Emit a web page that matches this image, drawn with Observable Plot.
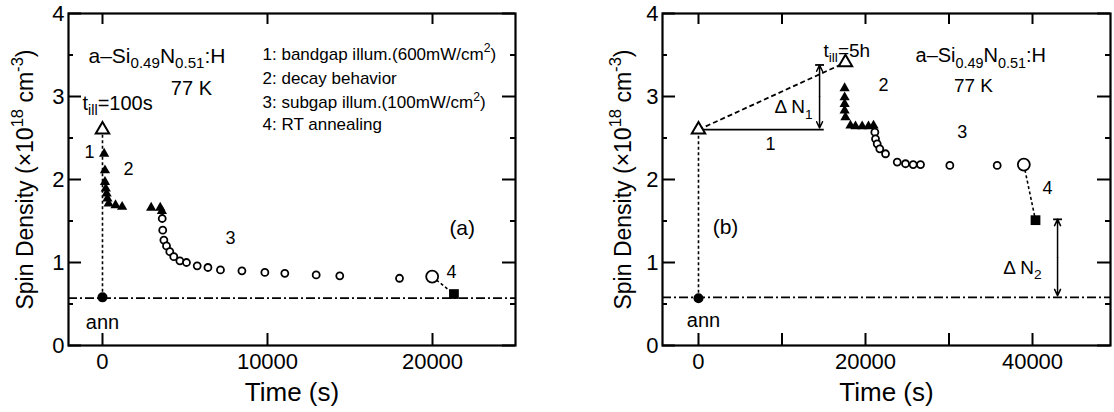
<!DOCTYPE html>
<html><head><meta charset="utf-8">
<script src="https://cdn.jsdelivr.net/npm/d3@7"></script>
<script src="https://cdn.jsdelivr.net/npm/@observablehq/plot@0.6"></script>
<style>
body{margin:0;background:#fff;}
#wrap{position:relative;width:1114px;height:412px;overflow:hidden;}
#a,#b{position:absolute;top:0;}
#a{left:0} #b{left:557px}
svg{font-family:Arial,"Liberation Sans",Helvetica,sans-serif;}
</style></head><body><div id="wrap"><div id="a"></div><div id="b"></div></div>
<script>
// ---------- shared ----------
const yMajor = [0, 1, 2, 3, 4];
const yMinor = [0.5, 1.5, 2.5, 3.5];
const yLabel = "Spin Density (×10^{18} cm^{-3})";
const xLabel = "Time (s)";
const material = "a–Si_{0.49}N_{0.51}:H";
const temperature = "77 K";

// ---------- panel (a) ----------
const aXTicks = [0, 10000, 20000];
const aXLabels = [0, 10000, 20000];
const aAnnT = [0], aAnnV = [0.58];
const aOpenTriT = [0], aOpenTriV = [2.6];
const aTriT = [100, 150, 150, 200, 250, 300, 370, 790, 1190, 2950, 3500, 3600];
const aTriV = [2.31, 2.11, 1.97, 1.89, 1.83, 1.77, 1.71, 1.69, 1.67, 1.66, 1.66, 1.62];
const aCircT = [3620, 3650, 3720, 3880, 4080, 4320, 4690, 5090, 5740, 6390, 7150, 8450, 9840, 11050, 12950, 14380, 18000];
const aCircV = [1.53, 1.39, 1.27, 1.20, 1.13, 1.07, 1.02, 1.00, 0.96, 0.94, 0.91, 0.90, 0.88, 0.87, 0.85, 0.84, 0.81];
const aBigT = [19980], aBigV = [0.83];
const aSqT = [21300], aSqV = [0.62];
const aBaseline = 0.57;
const aMaterialPos = [{t: -850, v: 3.49}];
const aTempPos = [{t: 5390, v: 3.10}];
const aTillText = [{t: -1210, v: 2.92, s: "t_{ill}=100s"}];
const aLegendText = [
  {t: 9700, v: 3.51, s: "1: bandgap illum.(600mW/cm^{2})"},
  {t: 9700, v: 3.22, s: "2: decay behavior"},
  {t: 9700, v: 2.93, s: "3: subgap illum.(100mW/cm^{2})"},
  {t: 9700, v: 2.66, s: "4: RT annealing"}
];
const aStepText = [
  {t: -780, v: 2.33, s: "1"},
  {t: 1580, v: 2.12, s: "2"},
  {t: 7760, v: 1.29, s: "3"},
  {t: 21150, v: 0.88, s: "4"}
];
const aPanelText = [{t: 21800, v: 1.41, s: "(a)"}];
const aAnnText = [{t: 0, v: 0.27, s: "ann"}];

// ---------- panel (b) ----------
const bXTicks = [0, 10000, 20000, 30000, 40000];
const bXLabels = [0, 20000, 40000];
const bAnnT = [0], bAnnV = [0.57];
const bOpenTriT = [0, 17600], bOpenTriV = [2.6, 3.41];
const bTriT = [17500, 17500, 17500, 17500, 17600, 18200, 18800, 19600, 20360, 20960];
const bTriV = [3.10, 2.99, 2.91, 2.83, 2.75, 2.65, 2.64, 2.64, 2.64, 2.65];
const bCircT = [21120, 21200, 21400, 21710, 22400, 23800, 24790, 25710, 26590, 30100, 35770];
const bCircV = [2.57, 2.49, 2.43, 2.37, 2.31, 2.21, 2.19, 2.18, 2.18, 2.17, 2.17];
const bBigT = [38960], bBigV = [2.18];
const bSqT = [40360], bSqV = [1.51];
const bBaseline = 0.58;
const bLevel1End = 15000;
const bDeltas = [{t: 14500, v1: 2.62, v2: 3.38}, {t: 43000, v1: 0.60, v2: 1.52}];
const bMaterialPos = [{t: 25990, v: 3.49}];
const bTempPos = [{t: 32930, v: 3.13}];
const bTillText = [{t: 14970, v: 3.55, s: "t_{ill}=5h"}];
const bStepText = [
  {t: 22150, v: 3.13, s: "2"},
  {t: 31600, v: 2.57, s: "3"},
  {t: 41800, v: 1.89, s: "4"},
  {t: 8620, v: 2.43, s: "1"}
];
const bDeltaText = [
  {t: 11380, v: 2.87, s: "Δ N_{1}"},
  {t: 38800, v: 0.94, s: "Δ N_{2}"}
];
const bPanelText = [{t: 3230, v: 1.42, s: "(b)"}];
const bAnnText = [{t: 600, v: 0.30, s: "ann"}];

const zip = (T, V) => T.map((t, i) => ({t, v: V[i]}));
const barSymbol = {draw(ctx, size) { const w = Math.sqrt(size) / 2; ctx.moveTo(-w, 0); ctx.lineTo(w, 0); }};

function axesMarks(xTicks, xLabels, plotW, plotH) {
  return [
    Plot.frame({stroke: "black", strokeWidth: 2.2}),
    Plot.tickX(xTicks, {x: d => d, insetTop: plotH - 12, strokeWidth: 2}),
    Plot.tickX(xTicks, {x: d => d, insetBottom: plotH - 11, strokeWidth: 2}),
    Plot.tickY(yMajor, {y: d => d, insetRight: plotW - 13, strokeWidth: 2}),
    Plot.tickY(yMinor, {y: d => d, insetRight: plotW - 5, strokeWidth: 2}),
    Plot.tickY(yMajor, {y: d => d, insetLeft: plotW - 13, strokeWidth: 2}),
    Plot.tickY(yMinor, {y: d => d, insetLeft: plotW - 5, strokeWidth: 2}),
    Plot.axisX(xLabels, {tickSize: 0, tickPadding: 8, fontSize: 22, tickFormat: d => String(d), label: null}),
    Plot.axisY(yMajor, {tickSize: 0, tickPadding: 4, fontSize: 22, tickFormat: d => String(d), label: null}),
    Plot.text([xLabel], {frameAnchor: "bottom", dy: 55, fontSize: 26}),
  ];
}

function txt(texts, anchor, fs, extra = {}) {
  return Plot.text(texts, {x: "t", y: "v", text: "s", textAnchor: anchor, fontSize: fs, ...extra});
}
function fixed(pos, s, anchor, fs) {
  return Plot.text(pos, {x: "t", y: "v", text: () => s, textAnchor: anchor, fontSize: fs});
}

function rich(svg) {
  d3.select(svg).selectAll("text").each(function () {
    const s = this.textContent;
    if (!/[_^]\{/.test(s)) return;
    const fs = parseFloat(getComputedStyle(this).fontSize) || 16;
    const el = d3.select(this);
    el.text(null);
    const re = /([_^])\{([^}]*)\}/g;
    let last = 0, m, shift = 0;
    const add = (t, opts) => {
      const ts = el.append("tspan").text(t);
      if (opts.size) ts.attr("font-size", opts.size);
      if (opts.dy) ts.attr("dy", opts.dy);
    };
    while ((m = re.exec(s))) {
      if (m.index > last) { add(s.slice(last, m.index), {dy: -shift}); shift = 0; }
      const d = m[1] === "_" ? 0.28 * fs : -0.42 * fs;
      add(m[2], {size: 0.72 * fs, dy: d - shift});
      shift = d;
      last = re.lastIndex;
    }
    if (last < s.length) add(s.slice(last), {dy: -shift});
  });
}

function yLabelMark(dx) {
  return Plot.text([yLabel], {frameAnchor: "left", textAnchor: "middle", dx, rotate: -90, fontSize: 23});
}

function deltaArrows(data) {
  return [
    Plot.arrow(data, {x1: "t", x2: "t", y1: d => (d.v1 + d.v2) / 2, y2: "v1", strokeWidth: 1.5, headLength: 7, headAngle: 50}),
    Plot.arrow(data, {x1: "t", x2: "t", y1: d => (d.v1 + d.v2) / 2, y2: "v2", strokeWidth: 1.5, headLength: 7, headAngle: 50}),
    Plot.dot(data, {x: "t", y: "v2", symbol: barSymbol, stroke: "black", strokeWidth: 1.8, r: 5})
  ];
}

const style = {fontFamily: "Arial, 'Liberation Sans', sans-serif", color: "black", background: "white"};

// ---------- draw (a) ----------
{
  const mL = 68, mT = 13, mR = 42, mB = 67, W = 557, H = 412;
  const pW = W - mL - mR, pH = H - mT - mB;
  const ann = zip(aAnnT, aAnnV), top = zip(aOpenTriT, aOpenTriV);
  const plot = Plot.plot({
    width: W, height: H, marginLeft: mL, marginTop: mT, marginRight: mR, marginBottom: mB,
    x: {domain: [-2060, 25030], axis: null},
    y: {domain: [0, 4], axis: null},
    style,
    marks: [
      ...axesMarks(aXTicks, aXLabels, pW, pH),
      Plot.ruleY([aBaseline], {strokeDasharray: "9,3,2,3", strokeWidth: 1.7}),
      Plot.link([{x1: ann[0].t, y1: ann[0].v, x2: top[0].t, y2: top[0].v}], {x1: "x1", y1: "y1", x2: "x2", y2: "y2", strokeDasharray: "3,2.5", strokeWidth: 1.6}),
      Plot.link([{x1: aBigT[0], y1: aBigV[0], x2: aSqT[0], y2: aSqV[0]}], {x1: "x1", y1: "y1", x2: "x2", y2: "y2", strokeDasharray: "3,2.5", strokeWidth: 1.6}),
      Plot.dot(zip(aTriT, aTriV), {x: "t", y: "v", symbol: "triangle", fill: "black", r: 3.8}),
      Plot.dot(zip(aCircT, aCircV), {x: "t", y: "v", fill: "white", stroke: "black", strokeWidth: 1.8, r: 3.5}),
      Plot.dot(zip(aBigT, aBigV), {x: "t", y: "v", fill: "white", stroke: "black", strokeWidth: 1.8, r: 6}),
      Plot.dot(zip(aSqT, aSqV), {x: "t", y: "v", symbol: "square", fill: "black", r: 5.5}),
      Plot.dot(top, {x: "t", y: "v", symbol: "triangle", fill: "white", stroke: "black", strokeWidth: 2, r: 5}),
      Plot.dot(ann, {x: "t", y: "v", fill: "black", r: 5}),
      fixed(aMaterialPos, material, "start", 21),
      fixed(aTempPos, temperature, "middle", 20),
      txt(aTillText, "start", 20),
      txt(aLegendText, "start", 17),
      txt(aStepText, "middle", 18),
      txt(aPanelText, "middle", 21),
      txt(aAnnText, "middle", 20),
      yLabelMark(-43)
    ]
  });
  document.getElementById("a").append(plot);
  rich(plot);
}

// ---------- draw (b) ----------
{
  const mL = 105, mT = 13, mR = 4, mB = 67, W = 557, H = 412;
  const pW = W - mL - mR, pH = H - mT - mB;
  const ann = zip(bAnnT, bAnnV), tri = zip(bOpenTriT, bOpenTriV);
  const plot = Plot.plot({
    width: W, height: H, marginLeft: mL, marginTop: mT, marginRight: mR, marginBottom: mB,
    x: {domain: [-4310, 49340], axis: null},
    y: {domain: [0, 4], axis: null},
    style,
    marks: [
      ...axesMarks(bXTicks, bXLabels, pW, pH),
      Plot.ruleY([bBaseline], {strokeDasharray: "9,3,2,3", strokeWidth: 1.7}),
      Plot.link([{x1: ann[0].t, y1: ann[0].v, x2: tri[0].t, y2: tri[0].v}], {x1: "x1", y1: "y1", x2: "x2", y2: "y2", strokeDasharray: "3,2.5", strokeWidth: 1.6}),
      Plot.link([{x1: tri[0].t, y1: tri[0].v, x2: tri[1].t, y2: tri[1].v}], {x1: "x1", y1: "y1", x2: "x2", y2: "y2", strokeDasharray: "5,3", strokeWidth: 1.8}),
      Plot.link([{x1: tri[0].t, y1: tri[0].v, x2: bLevel1End, y2: tri[0].v}], {x1: "x1", y1: "y1", x2: "x2", y2: "y2", strokeWidth: 1.8}),
      Plot.link([{x1: bBigT[0], y1: bBigV[0], x2: bSqT[0], y2: bSqV[0]}], {x1: "x1", y1: "y1", x2: "x2", y2: "y2", strokeDasharray: "3,2.5", strokeWidth: 1.6}),
      ...deltaArrows(bDeltas),
      Plot.dot(zip(bTriT, bTriV), {x: "t", y: "v", symbol: "triangle", fill: "black", r: 3.8}),
      Plot.dot(zip(bCircT, bCircV), {x: "t", y: "v", fill: "white", stroke: "black", strokeWidth: 1.8, r: 3.5}),
      Plot.dot(zip(bBigT, bBigV), {x: "t", y: "v", fill: "white", stroke: "black", strokeWidth: 1.8, r: 6}),
      Plot.dot(zip(bSqT, bSqV), {x: "t", y: "v", symbol: "square", fill: "black", r: 5.5}),
      Plot.dot(tri, {x: "t", y: "v", symbol: "triangle", fill: "white", stroke: "black", strokeWidth: 2, r: 5}),
      Plot.dot(ann, {x: "t", y: "v", fill: "black", r: 5}),
      fixed(bMaterialPos, material, "start", 20),
      fixed(bTempPos, temperature, "middle", 19),
      txt(bTillText, "start", 19),
      txt(bStepText, "middle", 18),
      txt(bDeltaText, "middle", 19),
      txt(bPanelText, "middle", 21),
      txt(bAnnText, "middle", 20),
      yLabelMark(-39)
    ]
  });
  document.getElementById("b").append(plot);
  rich(plot);
}
</script></body></html>
